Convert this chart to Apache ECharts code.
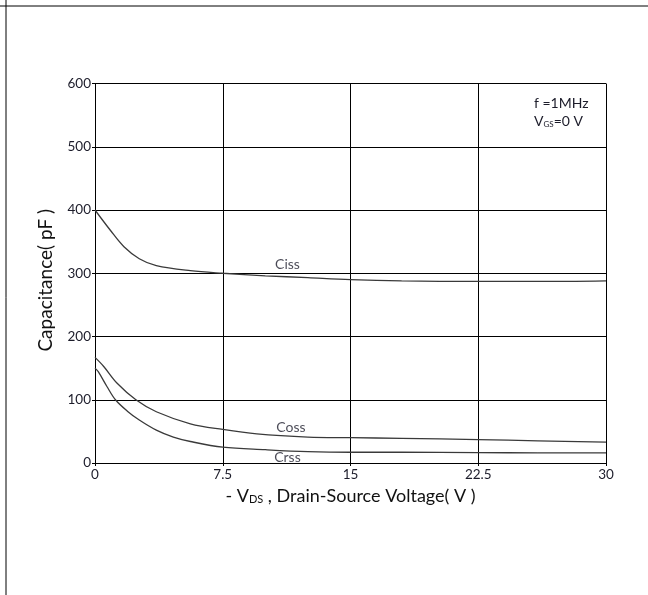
<!DOCTYPE html>
<html>
<head>
<meta charset="utf-8">
<script src="https://cdn.jsdelivr.net/npm/echarts@6/dist/echarts.min.js"></script>
<style>
html, body { margin: 0; padding: 0; background: #fff; }
#main { width: 648px; height: 595px; }
</style>
</head>
<body>
<div id="main"></div>
<script>
// capacitance curves
var cissX = [0, 0.9, 1.7, 2.6, 3.6, 5.6, 7.5, 10, 12.5, 15, 18, 22.5, 26, 30];
var cissY = [400, 368, 342, 323, 312, 304, 300, 296, 293, 290, 288, 287, 287, 288];

var cossX = [0, 0.5, 1.3, 2.4, 3.6, 5.6, 7.5, 9.5, 12.5, 15, 18, 22.5, 26, 30];
var cossY = [167, 153, 126, 100, 81, 62, 53, 46, 41, 40, 39, 37, 35, 33];

var crssX = [0, 0.2, 0.7, 1.2, 1.9, 2.6, 3.6, 4.6, 5.6, 7.5, 10, 12.5, 15, 18, 22.5, 26, 30];
var crssY = [150, 144, 121, 100, 82, 68, 52, 41, 34, 25, 21, 18, 17, 17, 16.5, 16, 16];

// curve names and where their labels sit
var curveNames = ['Ciss', 'Coss', 'Crss'];
var labelX = [11.3, 11.5, 11.3];
var labelY = [314, 56, 9];

var xTicks = [0, 7.5, 15, 22.5, 30];
var yTicks = [0, 100, 200, 300, 400, 500, 600];

function pairs(xs, ys) {
    var out = [];
    for (var i = 0; i < xs.length; i++) {
        out.push([xs[i], ys[i]]);
    }
    return out;
}

var font = 'Lato, "Open Sans", sans-serif';
var lineStyle = {color: '#3a3a3a', width: 1.3};

function curve(name, xs, ys) {
    return {
        name: name,
        type: 'line',
        smooth: 0.35,
        showSymbol: false,
        lineStyle: lineStyle,
        data: pairs(xs, ys),
        z: 3
    };
}

var labelData = [];
for (var i = 0; i < curveNames.length; i++) {
    labelData.push({value: [labelX[i], labelY[i]], name: curveNames[i]});
}

var myChart = echarts.init(document.getElementById('main'), null, {renderer: 'canvas'});
var option = {
    animation: false,
    backgroundColor: '#fff',
    grid: {left: 95, right: 42, top: 83.5, bottom: 132, show: false},
    xAxis: {
        type: 'value',
        min: xTicks[0],
        max: xTicks[xTicks.length - 1],
        interval: 7.5,
        axisLine: {lineStyle: {color: '#000', width: 1}},
        axisTick: {show: true, length: 3, lineStyle: {color: '#000'}},
        splitLine: {show: true, lineStyle: {color: '#000', width: 1}},
        axisLabel: {color: '#1c1c2a', fontSize: 13.5, fontFamily: font, margin: 5},
        name: '- V{sub|DS} , Drain-Source Voltage( V )',
        nameLocation: 'middle',
        nameGap: 21,
        nameTextStyle: {
            color: '#111', fontSize: 18, fontFamily: font,
            rich: {sub: {fontSize: 11, fontFamily: font, color: '#111', verticalAlign: 'bottom', padding: [6, 0, 0, 0]}}
        }
    },
    yAxis: {
        type: 'value',
        min: yTicks[0],
        max: yTicks[yTicks.length - 1],
        interval: 100,
        axisLine: {show: true, lineStyle: {color: '#000', width: 1}},
        axisTick: {show: true, length: 3, lineStyle: {color: '#000'}},
        splitLine: {show: true, lineStyle: {color: '#000', width: 1}},
        axisLabel: {color: '#1c1c2a', fontSize: 13.5, fontFamily: font, margin: 4},
        name: 'Capacitance( pF )',
        nameLocation: 'middle',
        nameGap: 40,
        nameTextStyle: {color: '#111', fontSize: 19, fontFamily: font, padding: [0, 14, 0, 0]}
    },
    series: [
        curve('Ciss', cissX, cissY),
        curve('Coss', cossX, cossY),
        curve('Crss', crssX, crssY),
        {
            type: 'scatter',
            symbolSize: 0,
            data: labelData,
            label: {
                show: true,
                position: 'inside',
                formatter: '{b}',
                color: '#1c1c2a',
                fontSize: 14,
                fontFamily: font
            },
            z: 4
        }
    ],
    graphic: [
        {type: 'line', shape: {x1: 0, y1: 6, x2: 648, y2: 6}, style: {stroke: '#000', lineWidth: 1}},
        {type: 'line', shape: {x1: 6, y1: 0, x2: 6, y2: 595}, style: {stroke: '#000', lineWidth: 1}},
        {
            type: 'text', left: 534, top: 96,
            style: {text: 'f =1MHz', fill: '#1c1c2a', fontSize: 14, fontFamily: font}
        },
        {
            type: 'text', left: 534, top: 114,
            style: {
                text: 'V{sub|GS}=0 V', fill: '#1c1c2a', fontSize: 14, fontFamily: font,
                rich: {sub: {fontSize: 8, fontFamily: font, fill: '#1c1c2a', verticalAlign: 'bottom'}}
            }
        }
    ]
};
myChart.setOption(option);
</script>
</body>
</html>
